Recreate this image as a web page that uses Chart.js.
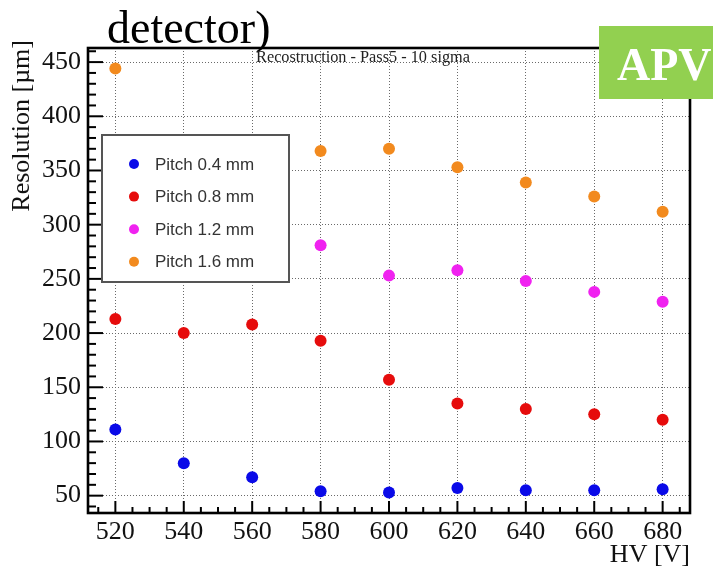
<!DOCTYPE html>
<html>
<head>
<meta charset="utf-8">
<script src="https://cdn.jsdelivr.net/npm/chart.js@4/dist/chart.umd.min.js"></script>
<style>
  html, body { margin: 0; padding: 0; background: #fff; }
  #wrap { position: relative; width: 713px; height: 572px; overflow: hidden; }
</style>
</head>
<body>
<div id="wrap"><canvas id="c" width="713" height="572"></canvas></div>
<script>
// HV scan: spatial resolution per strip pitch
const hv = [520, 540, 560, 580, 600, 620, 640, 660, 680];
const pitch04 = [111, 80, 67, 54, 53, 57, 55, 55, 56];
const pitch08 = [213, 200, 208, 193, 157, 135, 130, 125, 120];
const pitch12 = [null, null, null, 281, 253, 258, 248, 238, 229];
const pitch16 = [444, null, null, 368, 370, 353, 339, 326, 312];

const seriesNames = ['Pitch 0.4 mm', 'Pitch 0.8 mm', 'Pitch 1.2 mm', 'Pitch 1.6 mm'];
const seriesColors = ['#0a0ae8', '#e60c0c', '#f022f0', '#f28a1e'];

const xTicks = [520, 540, 560, 580, 600, 620, 640, 660, 680];
const yTicks = [50, 100, 150, 200, 250, 300, 350, 400, 450];

const xTitle = 'HV [V]';
const yTitle = 'Resolution [\u00b5m]';
const subTitle = 'Recostruction - Pass5 - 10 sigma';
const headText = 'detector)';
const badgeText = 'APV';

const SERIF = '"Liberation Serif", "Times New Roman", serif';
const SANS = '"Liberation Sans", Arial, sans-serif';

function toPoints(values) {
  return hv.map((x, i) => ({ x, y: values[i] })).filter(p => p.y !== null);
}

const allSeries = [pitch04, pitch08, pitch12, pitch16];
const datasets = allSeries.map((vals, i) => ({
  label: seriesNames[i],
  data: toPoints(vals),
  backgroundColor: seriesColors[i],
  borderColor: seriesColors[i],
  borderWidth: 0,
  pointRadius: 6,
  pointHoverRadius: 6,
  showLine: false
}));

// Frame with inward major/minor ticks (drawn from the scales)
const framePlugin = {
  id: 'frame',
  afterDatasetsDraw(chart) {
    const { ctx, chartArea: a, scales: { x, y } } = chart;
    ctx.save();
    ctx.strokeStyle = '#000';
    ctx.lineWidth = 2;
    // y ticks (minor every 10, major every 50)
    for (let v = 40; v <= 460; v += 10) {
      const py = y.getPixelForValue(v);
      if (py < a.top || py > a.bottom) continue;
      const len = (v % 50 === 0) ? 15 : 8;
      ctx.beginPath();
      ctx.moveTo(a.left, py);
      ctx.lineTo(a.left + len, py);
      ctx.stroke();
    }
    // x ticks (minor every 5, major every 20)
    for (let v = 515; v <= 685; v += 5) {
      const px = x.getPixelForValue(v);
      if (px < a.left || px > a.right) continue;
      const len = (v % 20 === 0) ? 12 : 6;
      ctx.beginPath();
      ctx.moveTo(px, a.bottom);
      ctx.lineTo(px, a.bottom - len);
      ctx.stroke();
    }
    ctx.lineWidth = 2.6;
    ctx.strokeRect(a.left, a.top, a.right - a.left, a.bottom - a.top);
    ctx.restore();
  }
};

// Boxed legend inside the plot area
const legendPlugin = {
  id: 'boxLegend',
  afterDatasetsDraw(chart) {
    const { ctx } = chart;
    const bx = 102, by = 135, bw = 187, bh = 147;
    ctx.save();
    ctx.fillStyle = '#fff';
    ctx.fillRect(bx, by, bw, bh);
    ctx.strokeStyle = '#555';
    ctx.lineWidth = 2;
    ctx.strokeRect(bx, by, bw, bh);
    ctx.font = '17px ' + SANS;
    ctx.textBaseline = 'middle';
    ctx.textAlign = 'left';
    chart.data.datasets.forEach((ds, i) => {
      const cy = 164 + i * 32.6;
      ctx.fillStyle = ds.backgroundColor;
      ctx.beginPath();
      ctx.arc(134, cy, 5, 0, Math.PI * 2);
      ctx.fill();
      ctx.fillStyle = '#333';
      ctx.fillText(ds.label, 155, cy + 1);
    });
    ctx.restore();
  }
};

// Titles, subtitle and badge
const textPlugin = {
  id: 'texts',
  afterDraw(chart) {
    const { ctx, chartArea: a } = chart;
    ctx.save();
    ctx.fillStyle = '#000';
    ctx.textBaseline = 'alphabetic';
    // heading fragment
    ctx.font = '46px ' + SERIF;
    ctx.textAlign = 'left';
    ctx.fillText(headText, 107, 43);
    // subtitle
    ctx.font = '16.3px ' + SERIF;
    ctx.fillStyle = '#222';
    ctx.textAlign = 'center';
    ctx.fillText(subTitle, 363, 62);
    // x axis title
    ctx.fillStyle = '#111';
    ctx.font = '26px ' + SERIF;
    ctx.textAlign = 'right';
    ctx.fillText(xTitle, a.right, 562);
    // y axis title
    ctx.translate(29, 40);
    ctx.rotate(-Math.PI / 2);
    ctx.textAlign = 'right';
    ctx.fillText(yTitle, 0, 0);
    ctx.setTransform(1, 0, 0, 1, 0, 0);
    // badge
    ctx.fillStyle = '#92d050';
    ctx.fillRect(599, 26, 120, 73);
    ctx.fillStyle = '#fff';
    ctx.font = 'bold 46px ' + SERIF;
    ctx.textAlign = 'left';
    ctx.fillText(badgeText, 617, 80);
    ctx.restore();
  }
};

new Chart(document.getElementById('c'), {
  type: 'scatter',
  data: { datasets },
  options: {
    responsive: false,
    animation: false,
    devicePixelRatio: 1,
    layout: { padding: { left: 0, right: 23, top: 48, bottom: 29 } },
    plugins: { legend: { display: false }, tooltip: { enabled: false }, title: { display: false } },
    scales: {
      x: {
        type: 'linear',
        min: 512, max: 688,
        afterBuildTicks: s => { s.ticks = xTicks.map(v => ({ value: v })); },
        afterFit: s => { s.height = 30; },
        grid: { color: '#6a6a6a', lineWidth: 1, drawTicks: false },
        border: { display: false, dash: [1, 2] },
        ticks: { font: { family: SERIF, size: 26 }, color: '#111', padding: 4, maxRotation: 0, autoSkip: false }
      },
      y: {
        type: 'linear',
        min: 34, max: 463,
        afterBuildTicks: s => { s.ticks = yTicks.map(v => ({ value: v })); },
        afterFit: s => { s.width = 88; },
        grid: { color: '#6a6a6a', lineWidth: 1, drawTicks: false },
        border: { display: false, dash: [1, 2] },
        ticks: { font: { family: SERIF, size: 26 }, color: '#111', padding: 7, autoSkip: false }
      }
    }
  },
  plugins: [framePlugin, legendPlugin, textPlugin]
});
</script>
</body>
</html>
